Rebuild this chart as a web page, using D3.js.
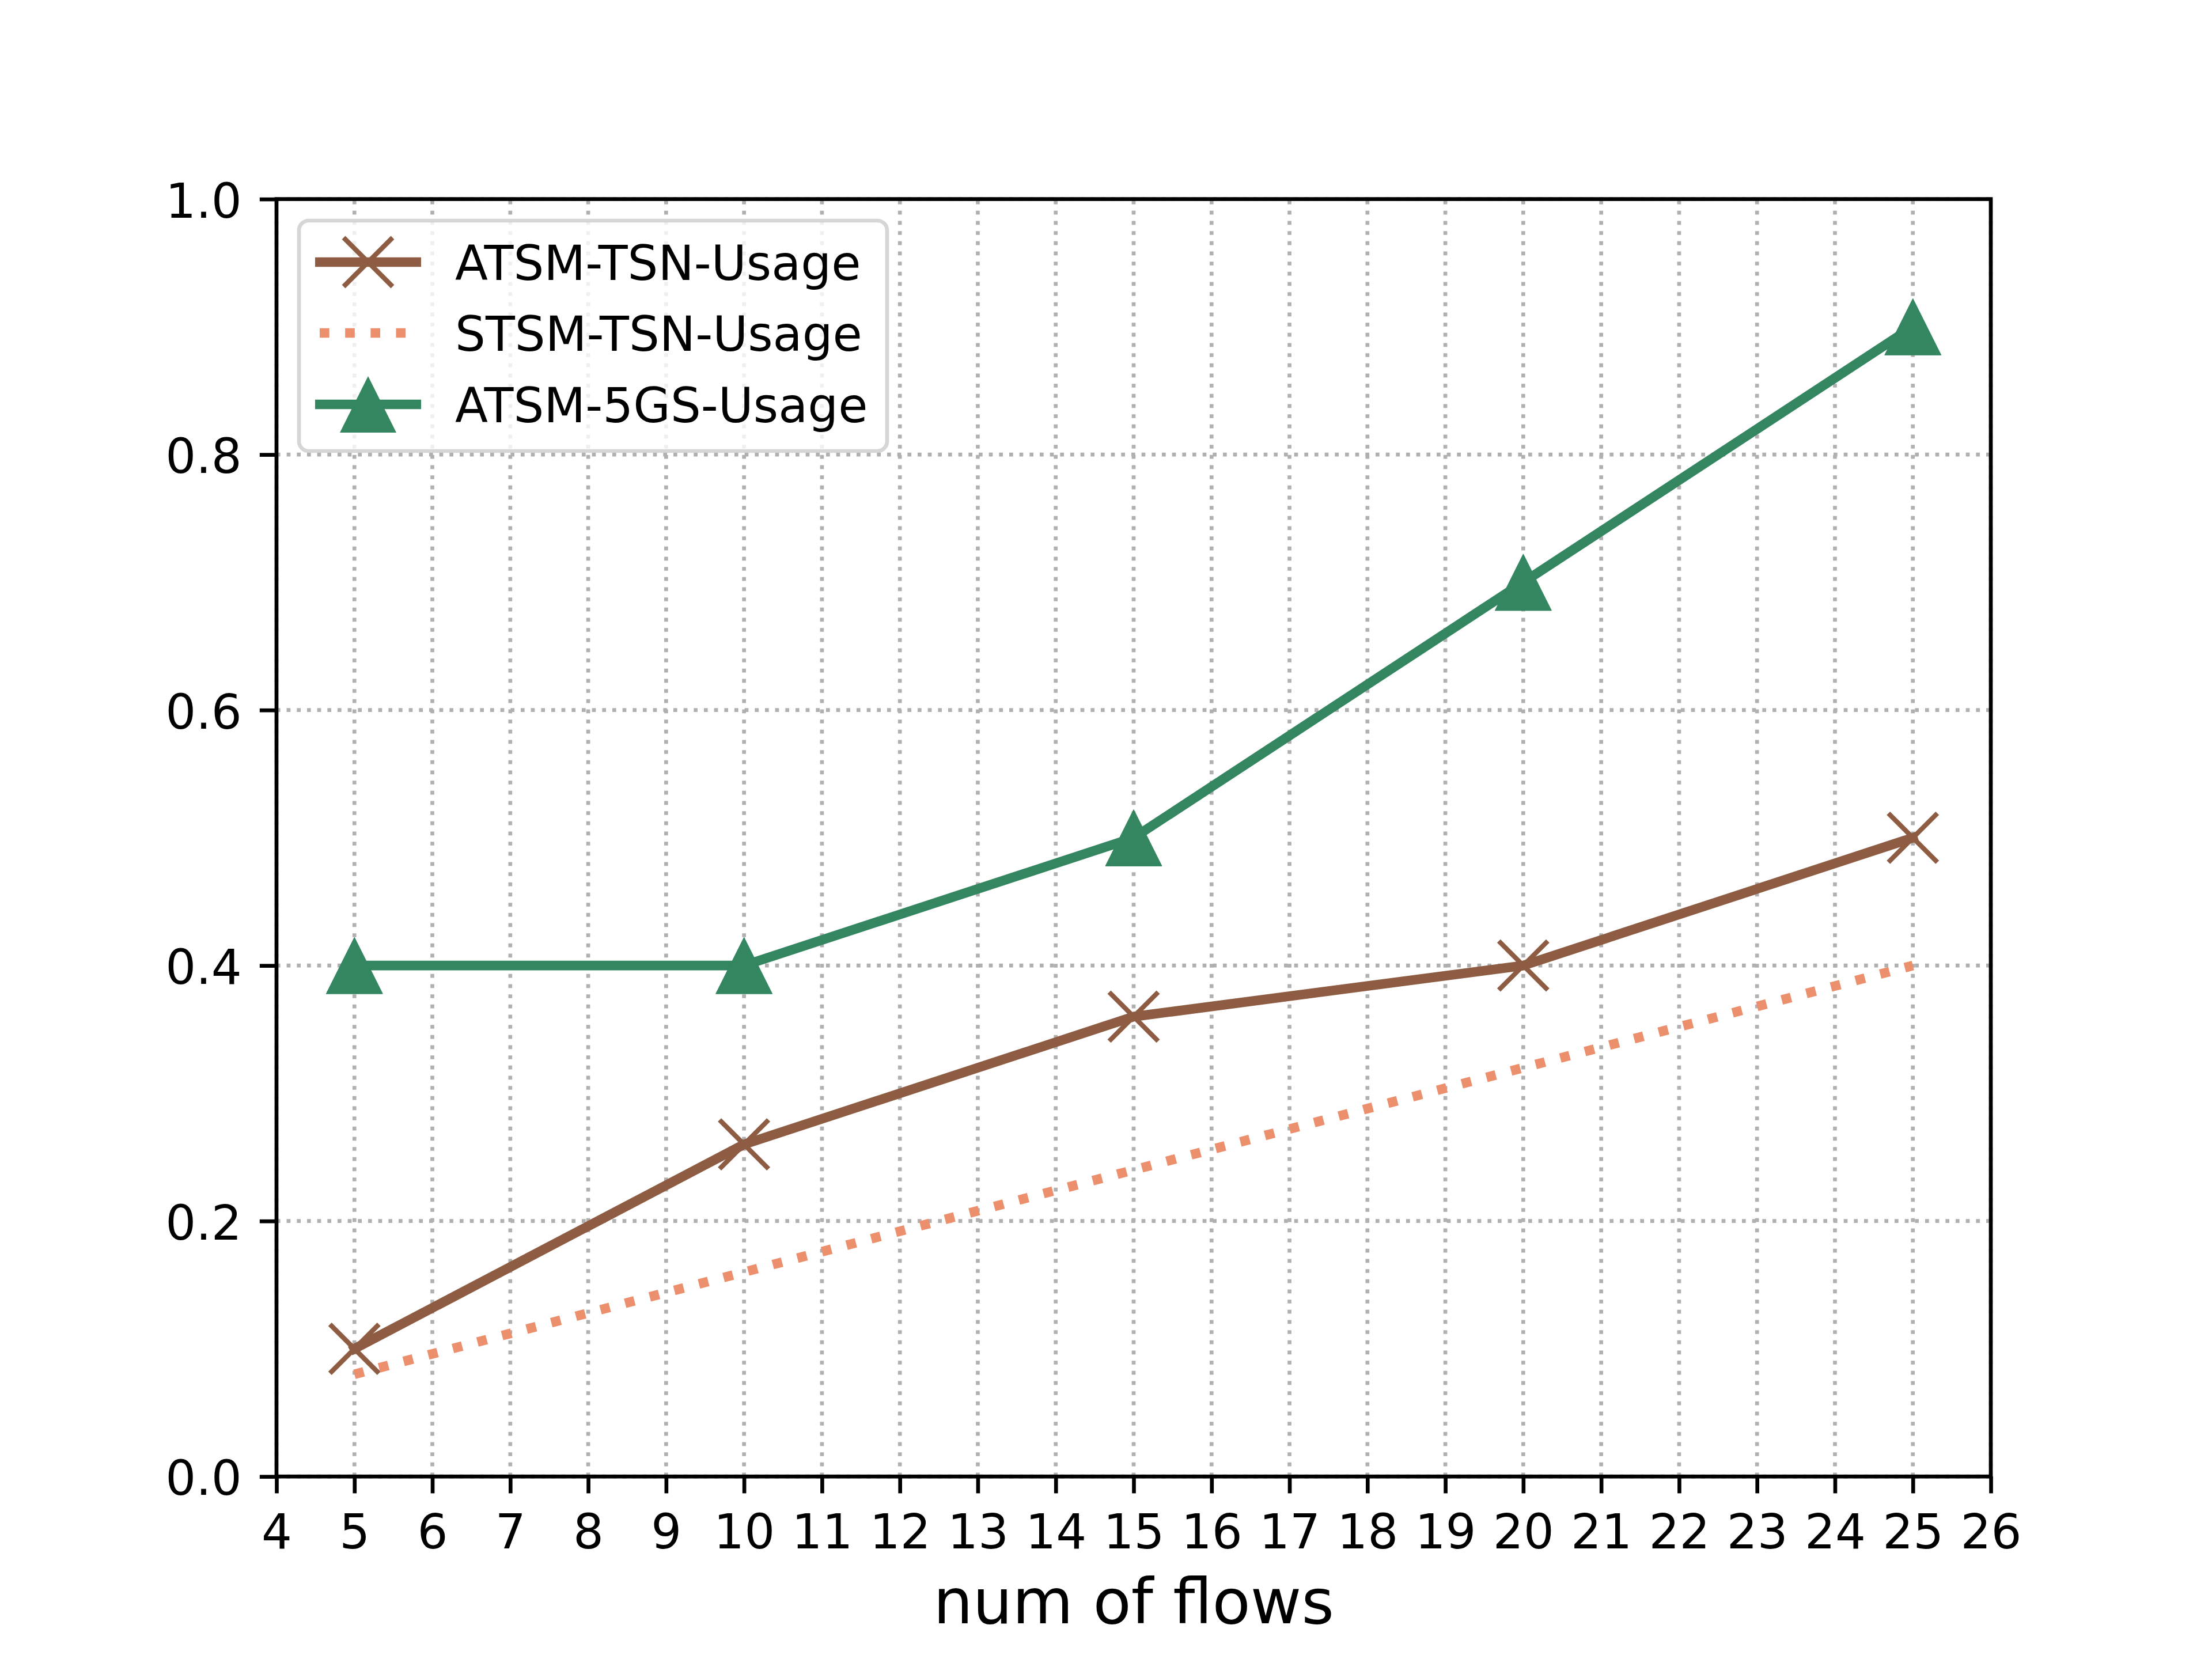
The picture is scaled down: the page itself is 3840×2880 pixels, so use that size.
<!DOCTYPE html>
<html>
<head>
<meta charset="utf-8">
<script src="https://cdn.jsdelivr.net/npm/d3@7"></script>
<style>
  html, body { margin: 0; padding: 0; background: #ffffff; }
  svg { display: block; font-family: 'DejaVu Sans', sans-serif; }
</style>
</head>
<body>
<div id="chart"></div>
<script>
// data
const flows = [5, 10, 15, 20, 25];
const atsmTsnUsage = [0.10, 0.26, 0.36, 0.40, 0.50];
const stsmTsnUsage = [0.08, 0.16, 0.24, 0.32, 0.40];
const atsm5gsUsage = [0.40, 0.40, 0.50, 0.70, 0.90];
const seriesNames = ['ATSM-TSN-Usage', 'STSM-TSN-Usage', 'ATSM-5GS-Usage'];
const xTicks = d3.range(4, 27);
const yTicks = [0, 0.2, 0.4, 0.6, 0.8, 1.0];

const width = 3840, height = 2880;
const margin = { left: 480, right: 384, top: 345.6, bottom: 316.8 };
const innerW = width - margin.left - margin.right;
const innerH = height - margin.top - margin.bottom;

const pt = 600 / 72; // matplotlib points -> px at 600 dpi
const lw = 2 * pt;
const tickFont = 10 * pt;

const colors = {
    atsmTsn: '#8d5c42',
    stsmTsn: '#eb8f6d',
    atsm5gs: '#348661'
};

const svg = d3.select('#chart')
    .append('svg')
    .attr('width', width)
    .attr('height', height);

svg.append('rect').attr('width', width).attr('height', height).attr('fill', '#ffffff');

const graph = svg.append('g')
    .attr('transform', `translate(${margin.left}, ${margin.top})`);

const x = d3.scaleLinear().domain([4, 26]).range([0, innerW]);
const y = d3.scaleLinear().domain([0, 1]).range([innerH, 0]);

// grid
const gridDash = `${0.8 * pt} ${0.8 * 1.65 * pt}`;
graph.append('g')
    .selectAll('line')
    .data(xTicks)
    .enter()
    .append('line')
    .attr('x1', d => x(d)).attr('x2', d => x(d))
    .attr('y1', innerH).attr('y2', 0)
    .attr('stroke', '#b0b0b0')
    .attr('stroke-width', 0.8 * pt)
    .attr('stroke-dasharray', gridDash);

graph.append('g')
    .selectAll('line')
    .data(yTicks)
    .enter()
    .append('line')
    .attr('x1', 0).attr('x2', innerW)
    .attr('y1', d => y(d)).attr('y2', d => y(d))
    .attr('stroke', '#b0b0b0')
    .attr('stroke-width', 0.8 * pt)
    .attr('stroke-dasharray', gridDash);

// series
const lineGen = d3.line()
    .x(d => x(d[0]))
    .y(d => y(d[1]));

const xMarkerHalf = 42.5;
const triHalf = 49;

function drawXMarkers(g, pts, color) {
    pts.forEach(p => {
        const cx = x(p[0]), cy = y(p[1]);
        g.append('path')
            .attr('d', `M${cx - xMarkerHalf},${cy - xMarkerHalf}L${cx + xMarkerHalf},${cy + xMarkerHalf}` +
                `M${cx - xMarkerHalf},${cy + xMarkerHalf}L${cx + xMarkerHalf},${cy - xMarkerHalf}`)
            .attr('stroke', color)
            .attr('stroke-width', pt)
            .attr('fill', 'none');
    });
}

function drawTriangles(g, pts, color) {
    pts.forEach(p => {
        const cx = x(p[0]), cy = y(p[1]);
        g.append('path')
            .attr('d', `M${cx},${cy - triHalf}L${cx - triHalf},${cy + triHalf}L${cx + triHalf},${cy + triHalf}Z`)
            .attr('fill', color)
            .attr('stroke', color)
            .attr('stroke-width', 1);
    });
}

// ATSM-TSN
const s1 = flows.map((f, i) => [f, atsmTsnUsage[i]]);
const g1 = graph.append('g');
g1.append('path')
    .attr('d', lineGen(s1))
    .attr('fill', 'none')
    .attr('stroke', colors.atsmTsn)
    .attr('stroke-width', lw)
    .attr('stroke-linejoin', 'round')
    .attr('stroke-linecap', 'square');
drawXMarkers(g1, s1, colors.atsmTsn);

// STSM-TSN (dotted)
const s2 = flows.map((f, i) => [f, stsmTsnUsage[i]]);
graph.append('path')
    .attr('d', lineGen(s2))
    .attr('fill', 'none')
    .attr('stroke', colors.stsmTsn)
    .attr('stroke-width', lw)
    .attr('stroke-dasharray', `${lw} ${lw * 1.65}`)
    .attr('stroke-linecap', 'butt');

// ATSM-5GS
const s3 = flows.map((f, i) => [f, atsm5gsUsage[i]]);
const g3 = graph.append('g');
g3.append('path')
    .attr('d', lineGen(s3))
    .attr('fill', 'none')
    .attr('stroke', colors.atsm5gs)
    .attr('stroke-width', lw)
    .attr('stroke-linejoin', 'round')
    .attr('stroke-linecap', 'square');
drawTriangles(g3, s3, colors.atsm5gs);

// axes
const xAxis = d3.axisBottom(x)
    .tickValues(xTicks)
    .tickSize(3.5 * pt)
    .tickSizeOuter(0)
    .tickPadding(36)
    .tickFormat(d3.format('d'));

const xAxisGroup = graph.append('g')
    .attr('transform', `translate(0, ${innerH})`)
    .call(xAxis);

const yAxis = d3.axisLeft(y)
    .tickValues(yTicks)
    .tickSize(3.5 * pt)
    .tickSizeOuter(0)
    .tickPadding(3.5 * pt + 2)
    .tickFormat(d3.format('.1f'));

const yAxisGroup = graph.append('g')
    .call(yAxis);

[xAxisGroup, yAxisGroup].forEach(g => {
    g.select('.domain').remove();
    g.selectAll('.tick line')
        .attr('stroke', '#000000')
        .attr('stroke-width', 0.8 * pt);
    g.selectAll('.tick text')
        .attr('fill', '#000000')
        .attr('font-family', 'DejaVu Sans')
        .attr('font-size', tickFont);
});
yAxisGroup.selectAll('.tick text').attr('dy', '0.38em');

// spines
graph.append('rect')
    .attr('x', 0).attr('y', 0)
    .attr('width', innerW).attr('height', innerH)
    .attr('fill', 'none')
    .attr('stroke', '#000000')
    .attr('stroke-width', 0.8 * pt)
    .attr('stroke-linejoin', 'miter');

// x label
svg.append('text')
    .attr('x', margin.left + innerW / 2)
    .attr('y', 2818)
    .attr('text-anchor', 'middle')
    .attr('font-family', 'DejaVu Sans')
    .attr('font-size', 13 * pt)
    .attr('fill', '#000000')
    .text('num of flows');

// legend
const legend = svg.append('g');
legend.append('rect')
    .attr('x', 519).attr('y', 383)
    .attr('width', 1021).attr('height', 400)
    .attr('rx', 17).attr('ry', 17)
    .attr('fill', '#ffffff')
    .attr('fill-opacity', 0.8)
    .attr('stroke', '#cccccc')
    .attr('stroke-opacity', 0.8)
    .attr('stroke-width', 0.8 * pt);

const rowY = [455, 578, 702];
const legendColors = [colors.atsmTsn, colors.stsmTsn, colors.atsm5gs];
const hx1 = 547, hx2 = 731, hmx = 639;

seriesNames.forEach((name, i) => {
    const ly = rowY[i];
    const line = legend.append('line')
        .attr('x1', hx1).attr('x2', hx2)
        .attr('y1', ly).attr('y2', ly)
        .attr('stroke', legendColors[i])
        .attr('stroke-width', lw);
    if (i === 1) {
        line.attr('x1', hx1 + 8)
            .attr('stroke-dasharray', `${lw} ${lw * 1.65}`);
    }
    if (i === 0) {
        legend.append('path')
            .attr('d', `M${hmx - xMarkerHalf},${ly - xMarkerHalf}L${hmx + xMarkerHalf},${ly + xMarkerHalf}` +
                `M${hmx - xMarkerHalf},${ly + xMarkerHalf}L${hmx + xMarkerHalf},${ly - xMarkerHalf}`)
            .attr('stroke', legendColors[i])
            .attr('stroke-width', pt);
    } else if (i === 2) {
        legend.append('path')
            .attr('d', `M${hmx},${ly - triHalf}L${hmx - triHalf},${ly + triHalf}L${hmx + triHalf},${ly + triHalf}Z`)
            .attr('fill', legendColors[i]);
    }
    legend.append('text')
        .attr('x', 790)
        .attr('y', ly + 31)
        .attr('font-family', 'DejaVu Sans')
        .attr('font-size', tickFont)
        .attr('fill', '#000000')
        .text(name);
});
</script>
</body>
</html>
